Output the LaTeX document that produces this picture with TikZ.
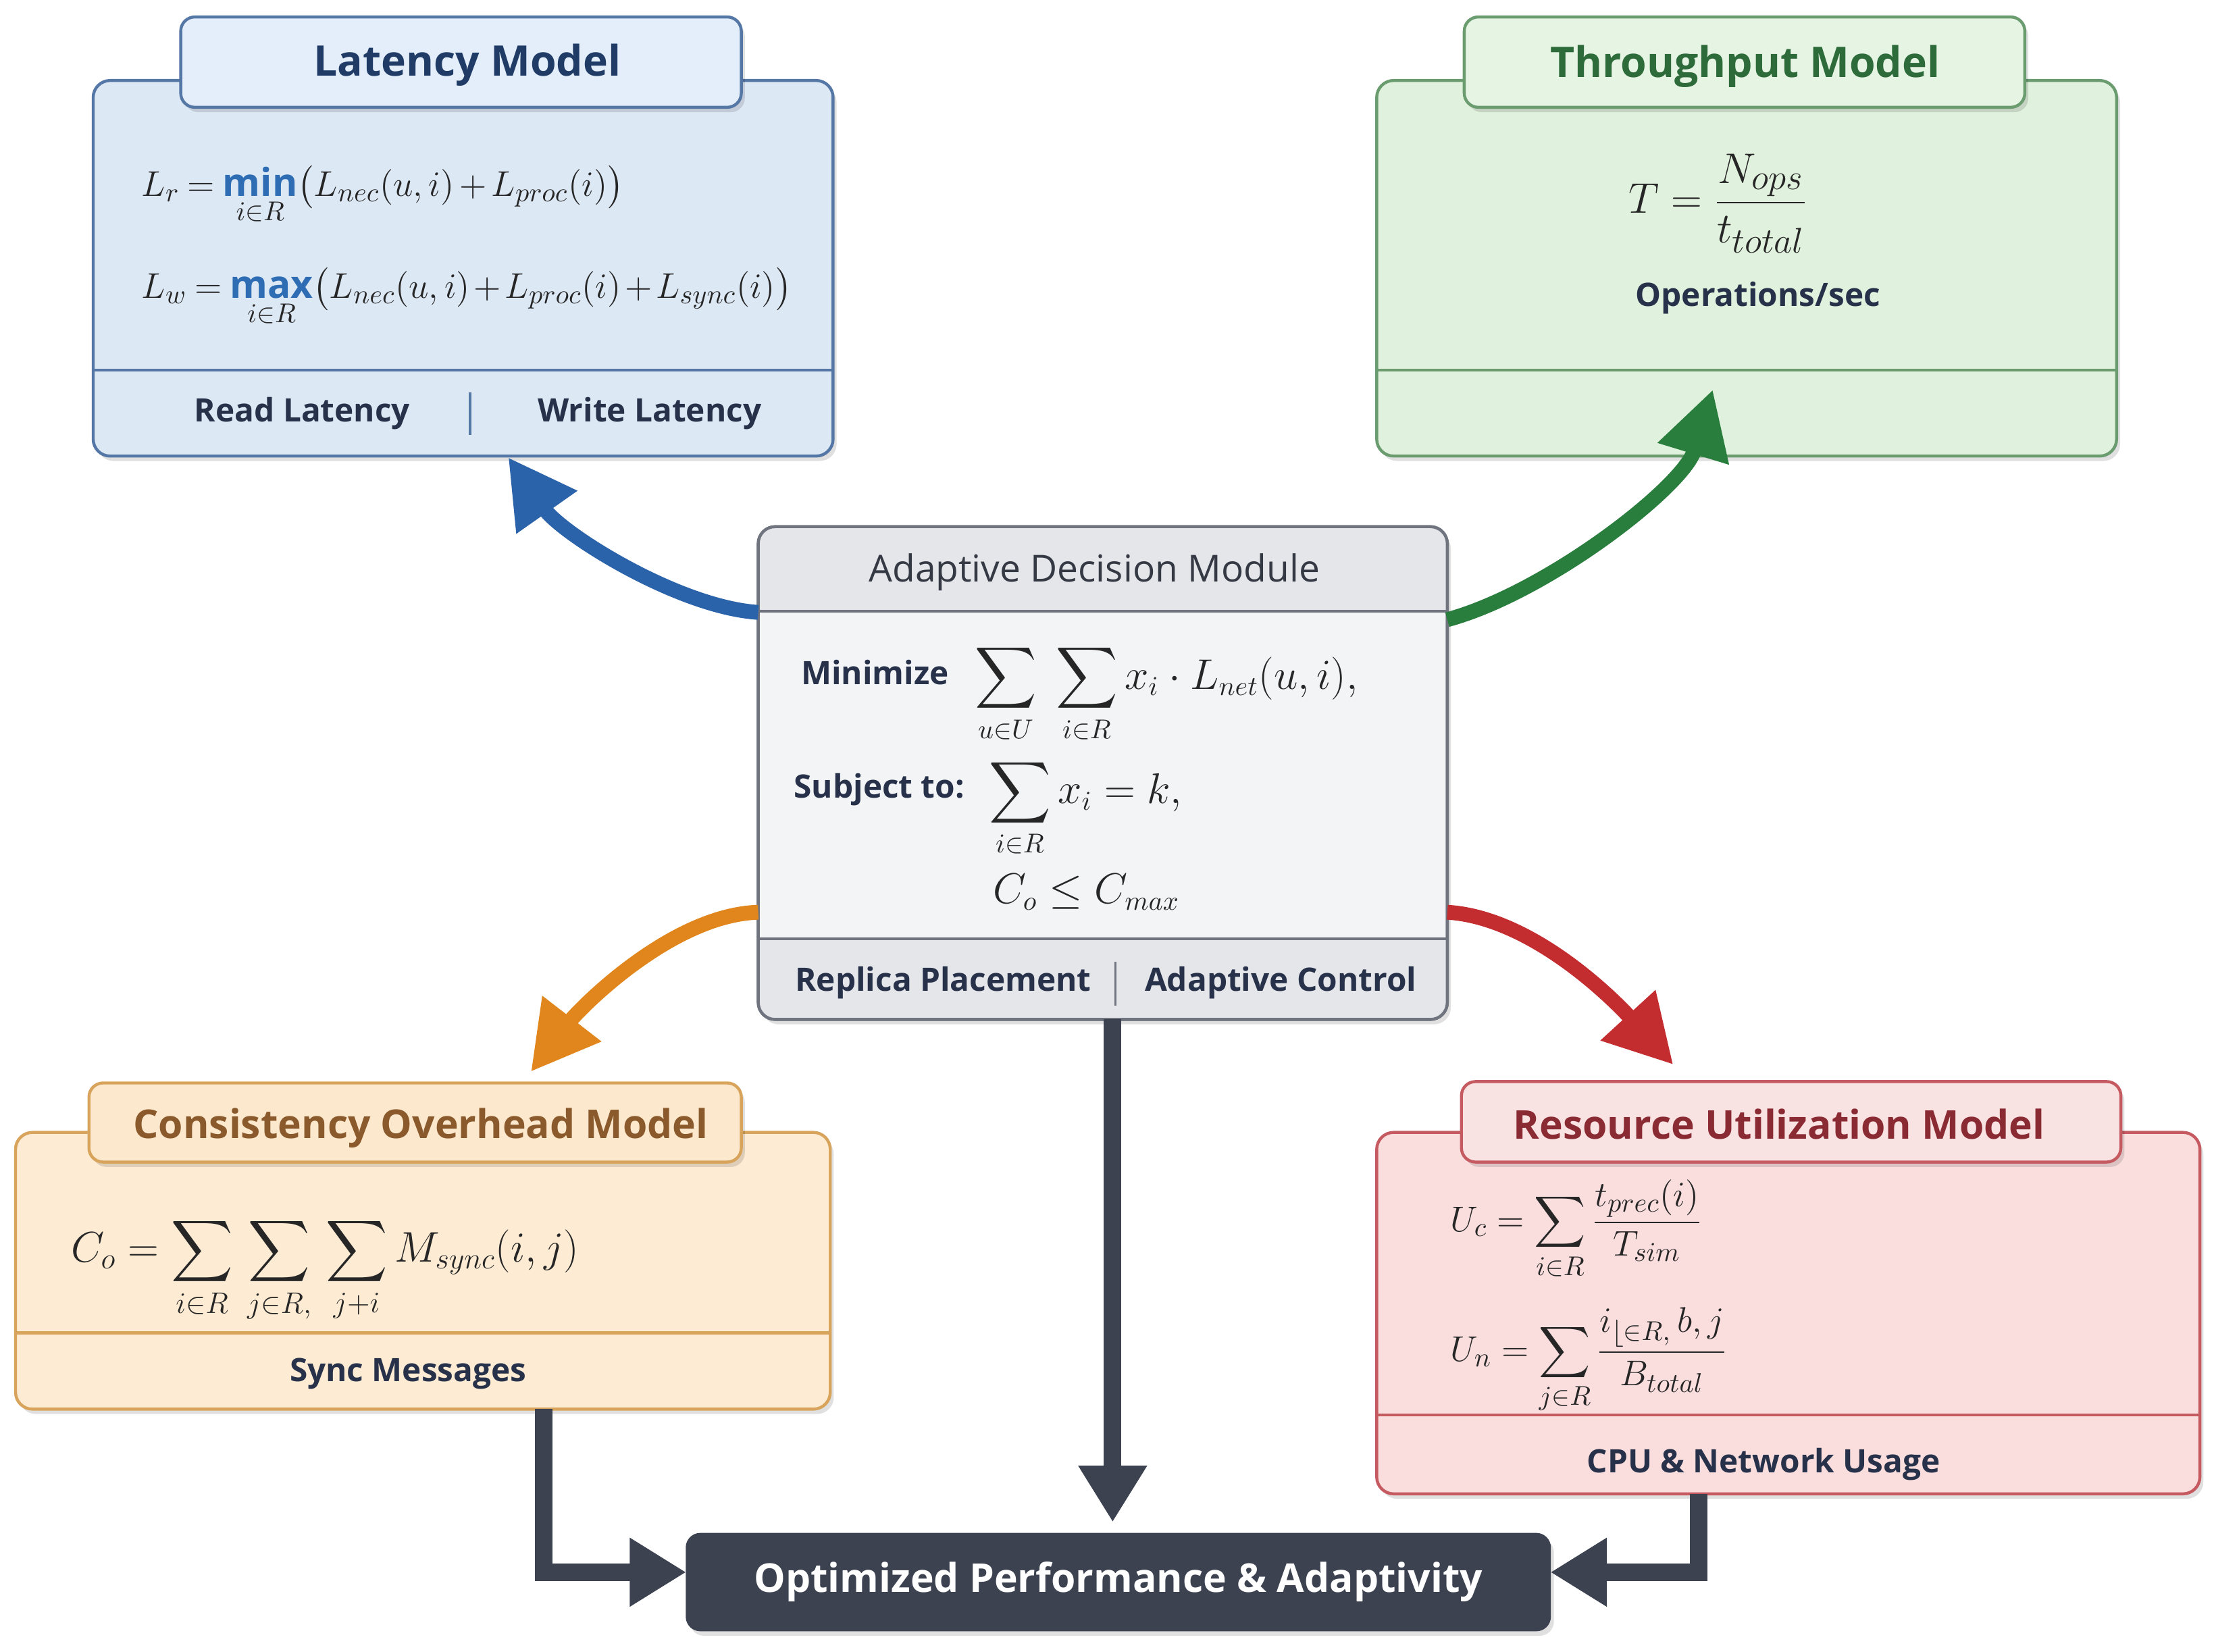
\documentclass[tikz,border=0pt]{standalone}
\usepackage{amsmath}
\usepackage{fontspec}
\setmainfont{Open Sans}
\usetikzlibrary{arrows.meta,shadows,calc}
\definecolor{latFill}{HTML}{DDE8F5}
\definecolor{latTab}{HTML}{E4EEFA}
\definecolor{latB}{HTML}{5577A6}
\definecolor{latT}{HTML}{1F3B66}
\definecolor{thrFill}{HTML}{E0F1DD}
\definecolor{thrTab}{HTML}{E6F4E3}
\definecolor{thrB}{HTML}{6B9C70}
\definecolor{thrT}{HTML}{2E6B3B}
\definecolor{admFill}{HTML}{F3F4F6}
\definecolor{admHead}{HTML}{E4E6EA}
\definecolor{admB}{HTML}{6F747E}
\definecolor{admT}{HTML}{343944}
\definecolor{conFill}{HTML}{FDEBD3}
\definecolor{conTab}{HTML}{FCE8CD}
\definecolor{conB}{HTML}{D8A35A}
\definecolor{conT}{HTML}{8B5A2C}
\definecolor{resFill}{HTML}{FADEDE}
\definecolor{resTab}{HTML}{F9E2E2}
\definecolor{resB}{HTML}{C65A61}
\definecolor{resT}{HTML}{8A2A33}
\definecolor{optFill}{HTML}{3D4251}
\definecolor{labtext}{HTML}{27324A}
\definecolor{minblue}{HTML}{2E6DB4}
\definecolor{arB}{HTML}{2B63AA}
\definecolor{arG}{HTML}{2A7E3D}
\definecolor{arO}{HTML}{E0861C}
\definecolor{arR}{HTML}{C42D30}
\definecolor{arD}{HTML}{3D4251}
\begin{document}
\begin{tikzpicture}[x=0.02cm,y=-0.02cm,
  sz/.style 2 args={minimum width=#1*0.02cm, minimum height=#2*0.02cm, inner sep=0pt, outer sep=0pt},
  boxshadow/.style={general shadow={fill=black, opacity=0.12, shadow xshift=0.05cm, shadow yshift=-0.07cm}},
  box/.style={draw, line width=1.2pt, rounded corners=0.24cm, boxshadow},
  tab/.style={draw, line width=1.2pt, rounded corners=0.2cm, boxshadow},
  title/.style={font=\fontsize{17}{20}\selectfont\bfseries},
  subtitle/.style={font=\fontsize{16}{19}\selectfont\bfseries},
  lab/.style={font=\fontsize{13}{16}\selectfont\bfseries, text=labtext},
  fml/.style={font=\fontsize{16}{19}\selectfont, anchor=base west, inner sep=0pt, text=black!85},
  sepline/.style={line width=1.2pt},
  curv/.style={line width=0.21cm, -{Triangle[length=0.95cm,width=1.0cm]}},
  darr/.style={arD, line width=0.25cm, -{Triangle[length=0.8cm,width=0.92cm]}}
]
\fill[white] (0,0) rectangle (1568,1170);
\useasboundingbox (0,0) rectangle (1568,1170);

% ---------- Latency Model ----------
\node[box, draw=latB, fill=latFill, sz={524}{266}] (lat) at (328,190) {};
\draw[latB, sepline] (66,262) -- (590,262);
\node[tab, draw=latB, fill=latTab, sz={397}{64}] (latTab) at (326.5,44) {};
\node[title, text=latT] (latTitle) at (331,46) {Latency Model};
\node[fml, font=\fontsize{15.5}{18}\selectfont] (lr) at (100,139) {$\medmuskip=2.5mu\thickmuskip=4mu L_r = \mathop{\textcolor{minblue}{\textbf{min}}}\limits_{i\in R}\bigl(L_{nec}(u,i) + L_{proc}(i)\bigr)$};
\node[fml, font=\fontsize{15.5}{18}\selectfont] (lw) at (100,211) {$\medmuskip=2mu\thickmuskip=4mu L_w = \mathop{\textcolor{minblue}{\textbf{max}}}\limits_{i\in R}\bigl(L_{nec}(u,i) + L_{proc}(i) + L_{sync}(i)\bigr)$};
\node[lab] (rl) at (214,293) {Read Latency};
\node[lab] (wl) at (460,293) {Write Latency};
\draw[latB, line width=1pt] (333,278) -- (333,308);

% ---------- Throughput Model ----------
\node[box, draw=thrB, fill=thrFill, sz={524}{266}] (thr) at (1237,190) {};
\draw[thrB, sepline] (975,262) -- (1499,262);
\node[tab, draw=thrB, fill=thrTab, sz={397}{64}] (thrTab) at (1235.5,44) {};
\node[title, text=thrT] (thrTitle) at (1236,47) {Throughput Model};
\node[font=\fontsize{19}{22}\selectfont, text=black!85] (tf) at (1217,144) {$T = \dfrac{N_{ops}}{t_{total}}$};
\node[lab] (ops) at (1245,211) {Operations/sec};

% ---------- Adaptive Decision Module ----------
\node[box, draw=admB, fill=admFill, sz={488}{349}] (adm) at (781,547.5) {};
\begin{scope}
  \clip[rounded corners=0.24cm] (adm.north west) rectangle (adm.south east);
  \fill[admHead] (537,373) rectangle (1025,433);
  \fill[admHead] (537,665) rectangle (1025,722);
\end{scope}
\draw[admB, line width=1.2pt, rounded corners=0.24cm] (adm.north west) rectangle (adm.south east);
\draw[admB, sepline] (537,433) -- (1025,433);
\draw[admB, sepline] (537,665) -- (1025,665);
\node[font=\fontsize{15}{18}\selectfont, text=admT] (admTitle) at (775,405) {Adaptive Decision Module};
\node[lab, anchor=base west, inner sep=0pt] (mini) at (567,485) {Minimize};
\node[fml] (mf) at (690,488) {$\displaystyle\sum_{u\in U}\;\sum_{i\in R} x_i\cdot L_{net}(u,i),$};
\node[lab, anchor=base west, inner sep=0pt] (subj) at (562,565) {Subject to:};
\node[fml] (sf) at (700,569) {$\displaystyle\sum_{i\in R} x_i = k,$};
\node[fml] (cf) at (703,640) {$C_o \le C_{max}$};
\node[lab] (rp) at (668,696) {Replica Placement};
\node[lab] (ac) at (907,696) {Adaptive Control};
\draw[admB, line width=1pt] (790,681) -- (790,712);

% ---------- Consistency Overhead Model ----------
\node[box, draw=conB, fill=conFill, sz={577}{196}] (con) at (299.5,900) {};
\draw[conB, sepline] (11,944) -- (588,944);
\node[tab, draw=conB, fill=conTab, sz={462}{56}] (conTab) at (294,795) {};
\node[subtitle, text=conT] (conTitle) at (298,799) {Consistency Overhead Model};
\node[fml, font=\fontsize{16.5}{20}\selectfont] (cof) at (50,894) {$C_o = \displaystyle\sum_{i\in R}\,\sum_{j\in R,}\,\sum_{j+i} M_{sync}(i,j)$};
\node[lab] (sync) at (289,973) {Sync Messages};

% ---------- Resource Utilization Model ----------
\node[box, draw=resB, fill=resFill, sz={583}{256}] (res) at (1266.5,930) {};
\draw[resB, sepline] (975,1002) -- (1558,1002);
\node[tab, draw=resB, fill=resTab, sz={467}{57}] (resTab) at (1268.5,794.5) {};
\node[subtitle, text=resT] (resTitle) at (1260,796) {Resource Utilization Model};
\node[fml, font=\fontsize{15.5}{18}\selectfont] (uc) at (1027,872) {$U_c = \displaystyle\sum_{i\in R}\frac{t_{prec}(i)}{T_{sim}}$};
\node[fml, font=\fontsize{15.5}{18}\selectfont] (un) at (1027,964) {$U_n = \displaystyle\sum_{j\in R}\frac{i_{\lfloor\in R,}\,b,j}{B_{total}}$};
\node[lab] (cpu) at (1249,1037) {CPU \& Network Usage};

% ---------- Optimized Performance ----------
\node[draw=optFill, fill=optFill, rounded corners=0.2cm, sz={612}{69}, boxshadow,
      font=\fontsize{16}{19}\selectfont\bfseries, text=white] (opt) at (792,1120.5) {Optimized Performance \& Adaptivity};

% ---------- Curved arrows ----------
\coordinate (tipB) at (360,324);
\coordinate (tipG) at (1213,276);
\coordinate (tipO) at (376,759);
\coordinate (tipR) at (1185,754);
\draw[curv, arB] (adm.155.6) .. controls (480,430) and (398,378) .. (tipB);
\draw[curv, arG] (adm.24.4) .. controls (1095,420) and (1192,345) .. (tipG);
\draw[curv, arO] (adm.202) .. controls (475,648) and (410,715) .. (tipO);
\draw[curv, arR] (adm.338) .. controls (1090,650) and (1152,718) .. (tipR);

% ---------- Straight arrows into result ----------
\draw[darr] ($(adm.south)+(7,0)$) -- ($(adm.south |- opt.north)+(7,-8)$);
\draw[darr] ($(con.south)+(85.5,0)$) |- ($(opt.west)+(0,-7)$);
\draw[darr] ($(res.south)+(-63.5,0)$) |- ($(opt.east)+(0,-7)$);
\end{tikzpicture}
\end{document}
